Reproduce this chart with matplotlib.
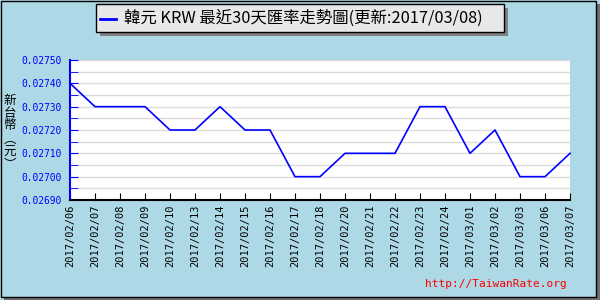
import matplotlib.pyplot as plt
from matplotlib.patches import Rectangle
from matplotlib.ticker import MultipleLocator, FormatStrFormatter

dates = ["2017/02/06", "2017/02/07", "2017/02/08", "2017/02/09", "2017/02/10",
         "2017/02/13", "2017/02/14", "2017/02/15", "2017/02/16", "2017/02/17",
         "2017/02/18", "2017/02/20", "2017/02/21", "2017/02/22", "2017/02/23",
         "2017/02/24", "2017/03/01", "2017/03/02", "2017/03/03", "2017/03/06",
         "2017/03/07"]
rates = [0.0274, 0.0273, 0.0273, 0.0273, 0.0272,
         0.0272, 0.0273, 0.0272, 0.0272, 0.0270,
         0.0270, 0.0271, 0.0271, 0.0271, 0.0273,
         0.0273, 0.0271, 0.0272, 0.0270, 0.0270,
         0.0271]
title = "韓元 KRW 最近30天匯率走勢圖(更新:2017/03/08)"
ylabel_chars = ["新", "台", "幣", "︵", "元", "︶"]

W, H = 600, 300
fonts = ["Noto Sans CJK TC", "DejaVu Sans"]
bg = "#add8e6"

fig = plt.figure(figsize=(W / 100, H / 100), dpi=100, facecolor=bg)

# outer frame with shadow
fig.patches.append(Rectangle((4 / W, 0), 596 / W, 296 / H, transform=fig.transFigure,
                             facecolor="#707070", edgecolor="none", zorder=0))
fig.patches.append(Rectangle((0.5 / W, 3.5 / H), 595 / W, 296 / H, transform=fig.transFigure,
                             facecolor=bg, edgecolor="black", lw=1, zorder=0.5))

ax = fig.add_axes([70 / W, 100 / H, 500 / W, 140 / H])
ax.set_zorder(5)
ax.set_facecolor("white")
x = list(range(len(dates)))
ax.plot(x, rates, color="blue", lw=1.2, solid_joinstyle="round", clip_on=False)
ax.set_xlim(0, len(dates) - 1)
ax.set_ylim(0.0269, 0.0275)

ax.yaxis.set_major_locator(MultipleLocator(0.0001))
ax.yaxis.set_minor_locator(MultipleLocator(0.00005))
ax.yaxis.set_major_formatter(FormatStrFormatter("%.5f"))
ax.grid(True, which="both", axis="y", color="#dcdcdc", lw=1)
ax.set_axisbelow(True)

ax.set_xticks(x)
ax.set_xticklabels(dates, rotation=90, family="DejaVu Sans Mono", fontsize=7.5)
ax.tick_params(axis="x", direction="in", length=5, color="black", pad=3)
ax.tick_params(axis="y", which="both", direction="in", length=6, color="blue",
               labelcolor="blue", labelsize=6.9, pad=6)
for lbl in ax.get_yticklabels():
    lbl.set_family("DejaVu Sans Mono")

ax.spines["left"].set_color("blue")
ax.spines["left"].set_linewidth(1.5)
ax.spines["bottom"].set_color("black")
ax.spines["bottom"].set_linewidth(1.5)
ax.spines["top"].set_visible(False)
ax.spines["right"].set_visible(False)

# stacked vertical y label
for i, ch in enumerate(ylabel_chars):
    fig.text(10 / W, 1 - (100 + i * 13) / H, ch, va="center", ha="center",
             fontsize=9, family=fonts)

# legend box at top
fig.patches.append(Rectangle((100 / W, 1 - 36 / H), 408 / W, 28 / H, transform=fig.transFigure,
                             facecolor="#808080", edgecolor="none", zorder=1))
fig.patches.append(Rectangle((96 / W, 1 - 32 / H), 408 / W, 28 / H, transform=fig.transFigure,
                             facecolor="#e8e8e8", edgecolor="black", lw=1, zorder=2))
fig.lines.append(plt.Line2D([100 / W, 116 / W], [1 - 19 / H, 1 - 19 / H],
                            transform=fig.transFigure, color="blue", lw=2, zorder=3))
fig.text(124 / W, 1 - 18 / H, title, va="center", ha="left", fontsize=11.8,
         family=fonts, zorder=3)

fig.text(567 / W, 1 - 284 / H, "http://TaiwanRate.org", color="red", ha="right",
         va="center", fontsize=8, family="DejaVu Sans Mono")

fig.savefig("out.png", dpi=100, facecolor=bg)
